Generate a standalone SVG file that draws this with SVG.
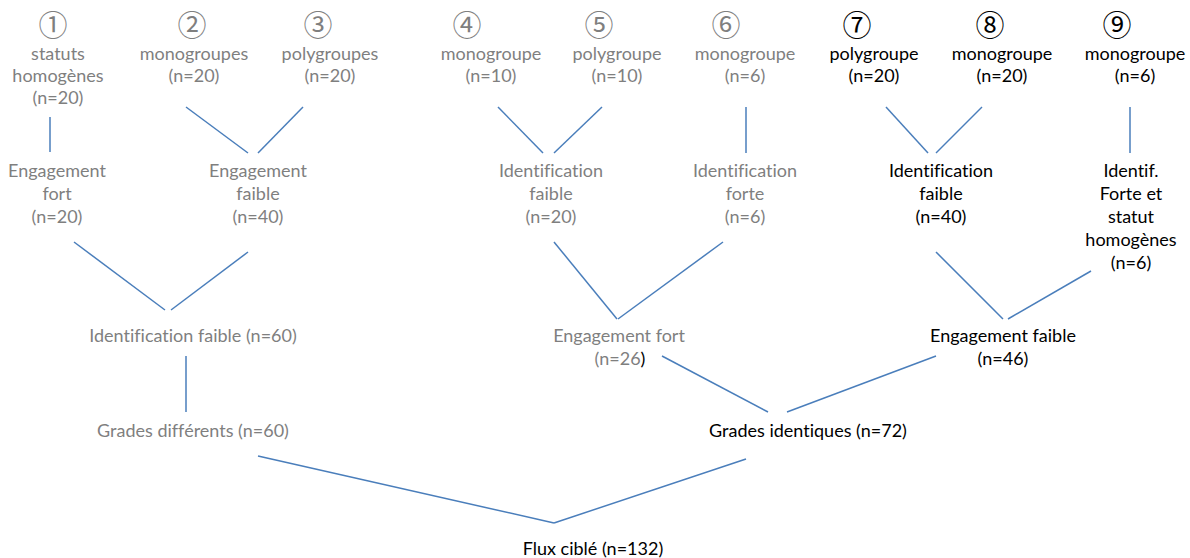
<svg xmlns="http://www.w3.org/2000/svg" width="1190" height="558" viewBox="0 0 1190 558">
<style>
text{font-family:Lato,"Open Sans","Liberation Sans",sans-serif;font-size:18px;text-anchor:middle;font-variant-ligatures:none}
.g{fill:#7f7f7f}
.k{fill:#000}
.n{font-family:"Noto Sans CJK JP","Noto Sans CJK SC",sans-serif;font-size:29px;dominant-baseline:central}
#connectors line{stroke:#4a7ebb;stroke-width:1.5;fill:none}
</style>
<rect width="1190" height="558" fill="#fff"/>
<g id="connectors">
<line x1="50" y1="117" x2="50" y2="152"/>
<line x1="186" y1="107" x2="248" y2="153"/>
<line x1="303" y1="107" x2="258" y2="153"/>
<line x1="74" y1="242" x2="165" y2="310"/>
<line x1="248" y1="252" x2="171" y2="310"/>
<line x1="186" y1="356" x2="186" y2="412"/>
<line x1="498" y1="107" x2="543" y2="153"/>
<line x1="602" y1="107" x2="554" y2="153"/>
<line x1="746" y1="107" x2="746" y2="153"/>
<line x1="554" y1="242" x2="617" y2="319"/>
<line x1="723" y1="242" x2="618" y2="319"/>
<line x1="886" y1="107" x2="928" y2="153"/>
<line x1="982" y1="107" x2="936" y2="153"/>
<line x1="1130" y1="107" x2="1130" y2="153"/>
<line x1="936" y1="252" x2="1003" y2="319"/>
<line x1="1091" y1="271" x2="1008" y2="319"/>
<line x1="662" y1="356" x2="768" y2="412"/>
<line x1="936" y1="356" x2="787" y2="412"/>
<line x1="258" y1="456" x2="554" y2="523"/>
<line x1="746" y1="459" x2="554" y2="523"/>
</g>
<g id="n1" class="g"><text class="n g" x="53" y="23">①</text><text x="58" y="60">statuts</text><text x="58" y="82">homogènes</text><text x="58" y="104">(n=20)</text></g>
<g id="n2" class="g"><text class="n g" x="192" y="23">②</text><text x="194" y="60">monogroupes</text><text x="194" y="82">(n=20)</text></g>
<g id="n3" class="g"><text class="n g" x="318" y="23">③</text><text x="330" y="60">polygroupes</text><text x="330" y="82">(n=20)</text></g>
<g id="n4" class="g"><text class="n g" x="467" y="23">④</text><text x="491" y="60">monogroupe</text><text x="491" y="82">(n=10)</text></g>
<g id="n5" class="g"><text class="n g" x="599" y="23">⑤</text><text x="617" y="60">polygroupe</text><text x="617" y="82">(n=10)</text></g>
<g id="n6" class="g"><text class="n g" x="726" y="23">⑥</text><text x="745" y="60">monogroupe</text><text x="745" y="82">(n=6)</text></g>
<g id="n7" class="k"><text class="n k" x="857" y="23">⑦</text><text x="874" y="60">polygroupe</text><text x="874" y="82">(n=20)</text></g>
<g id="n8" class="k"><text class="n k" x="990" y="23">⑧</text><text x="1002" y="60">monogroupe</text><text x="1002" y="82">(n=20)</text></g>
<g id="n9" class="k"><text class="n k" x="1117" y="23">⑨</text><text x="1135" y="60">monogroupe</text><text x="1135" y="82">(n=6)</text></g>
<g id="engfort20" class="g"><text x="57" y="177">Engagement</text><text x="57" y="200">fort</text><text x="57" y="223">(n=20)</text></g>
<g id="engfaible40" class="g"><text x="258" y="177">Engagement</text><text x="258" y="200">faible</text><text x="258" y="223">(n=40)</text></g>
<g id="idfaible20" class="g"><text x="551" y="177">Identification</text><text x="551" y="200">faible</text><text x="551" y="223">(n=20)</text></g>
<g id="idforte6" class="g"><text x="745" y="177">Identification</text><text x="745" y="200">forte</text><text x="745" y="223">(n=6)</text></g>
<g id="idfaible40" class="k"><text x="941" y="177">Identification</text><text x="941" y="200">faible</text><text x="941" y="223">(n=40)</text></g>
<g id="idforte6b" class="k"><text x="1131" y="177">Identif.</text><text x="1131" y="200">Forte et</text><text x="1131" y="223">statut</text><text x="1131" y="246">homogènes</text><text x="1131" y="269">(n=6)</text></g>
<g id="idfaible60" class="g"><text x="193" y="342">Identification faible (n=60)</text></g>
<g id="engfort26" class="g"><text x="619" y="342">Engagement fort</text><text x="620" y="365">(n=26<tspan class="k">)</tspan></text></g>
<g id="engfaible46" class="k"><text x="1003" y="342">Engagement faible</text><text x="1003" y="365">(n=46)</text></g>
<g id="gradesdiff" class="g"><text x="193" y="437">Grades différents (n=60)</text></g>
<g id="gradesid" class="k"><text x="808" y="437">Grades identiques (n=72)</text></g>
<g id="flux" class="k"><text x="593" y="555">Flux ciblé (n=132)</text></g>
</svg>
